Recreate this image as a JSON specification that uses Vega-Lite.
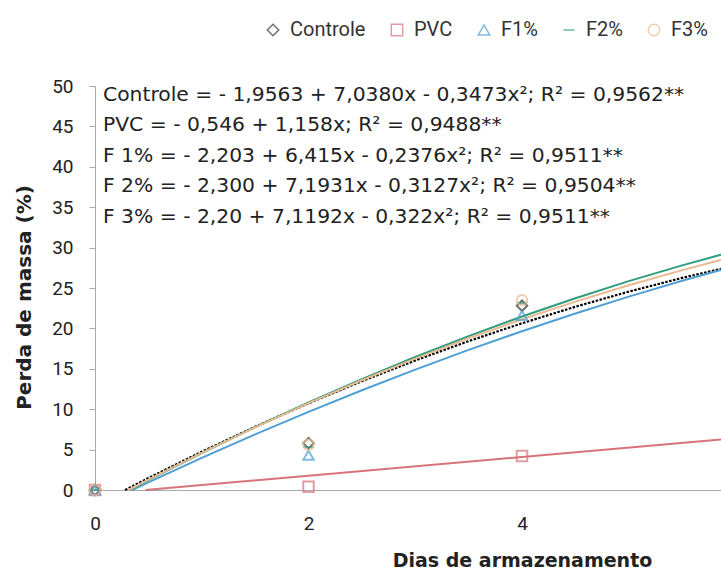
{
  "$schema": "https://vega.github.io/schema/vega-lite/v6.json",
  "width": 626,
  "height": 404,
  "autosize": {"type": "none"},
  "padding": {"left": 95, "top": 86, "right": 0, "bottom": 86},
  "background": "white",
  "config": {"view": {"stroke": null}, "font": "Roboto"},
  "datasets": {
    "points": [
      {"dia": 0, "perda": 0, "trat": "Controle"},
      {"dia": 2, "perda": 5.8, "trat": "Controle"},
      {"dia": 4, "perda": 22.8, "trat": "Controle"},
      {"dia": 0, "perda": 0, "trat": "PVC"},
      {"dia": 2, "perda": 0.4, "trat": "PVC"},
      {"dia": 4, "perda": 4.2, "trat": "PVC"},
      {"dia": 0, "perda": 0, "trat": "F1%"},
      {"dia": 2, "perda": 4.3, "trat": "F1%"},
      {"dia": 4, "perda": 21.6, "trat": "F1%"},
      {"dia": 0, "perda": 0, "trat": "F2%"},
      {"dia": 2, "perda": 5.3, "trat": "F2%"},
      {"dia": 4, "perda": 23.1, "trat": "F2%"},
      {"dia": 0, "perda": 0, "trat": "F3%"},
      {"dia": 2, "perda": 5.6, "trat": "F3%"},
      {"dia": 4, "perda": 23.5, "trat": "F3%"}
    ],
    "curves": [
      {"dia": 0.282, "perda": 0, "trat": "Controle"},
      {"dia": 0.5, "perda": 1.476, "trat": "Controle"},
      {"dia": 1, "perda": 4.734, "trat": "Controle"},
      {"dia": 1.5, "perda": 7.819, "trat": "Controle"},
      {"dia": 2, "perda": 10.731, "trat": "Controle"},
      {"dia": 2.5, "perda": 13.468, "trat": "Controle"},
      {"dia": 3, "perda": 16.032, "trat": "Controle"},
      {"dia": 3.5, "perda": 18.423, "trat": "Controle"},
      {"dia": 4, "perda": 20.639, "trat": "Controle"},
      {"dia": 4.5, "perda": 22.682, "trat": "Controle"},
      {"dia": 5, "perda": 24.551, "trat": "Controle"},
      {"dia": 5.5, "perda": 26.247, "trat": "Controle"},
      {"dia": 5.864, "perda": 27.372, "trat": "Controle"},
      {"dia": 0.4715, "perda": 0, "trat": "PVC"},
      {"dia": 2, "perda": 1.77, "trat": "PVC"},
      {"dia": 4, "perda": 4.086, "trat": "PVC"},
      {"dia": 5.864, "perda": 6.245, "trat": "PVC"},
      {"dia": 0.348, "perda": 0, "trat": "F1%"},
      {"dia": 0.5, "perda": 0.945, "trat": "F1%"},
      {"dia": 1, "perda": 3.974, "trat": "F1%"},
      {"dia": 1.5, "perda": 6.885, "trat": "F1%"},
      {"dia": 2, "perda": 9.677, "trat": "F1%"},
      {"dia": 2.5, "perda": 12.35, "trat": "F1%"},
      {"dia": 3, "perda": 14.904, "trat": "F1%"},
      {"dia": 3.5, "perda": 17.339, "trat": "F1%"},
      {"dia": 4, "perda": 19.655, "trat": "F1%"},
      {"dia": 4.5, "perda": 21.853, "trat": "F1%"},
      {"dia": 5, "perda": 23.932, "trat": "F1%"},
      {"dia": 5.5, "perda": 25.892, "trat": "F1%"},
      {"dia": 5.864, "perda": 27.244, "trat": "F1%"},
      {"dia": 0.324, "perda": 0, "trat": "F2%"},
      {"dia": 0.5, "perda": 1.218, "trat": "F2%"},
      {"dia": 1, "perda": 4.58, "trat": "F2%"},
      {"dia": 1.5, "perda": 7.786, "trat": "F2%"},
      {"dia": 2, "perda": 10.835, "trat": "F2%"},
      {"dia": 2.5, "perda": 13.728, "trat": "F2%"},
      {"dia": 3, "perda": 16.465, "trat": "F2%"},
      {"dia": 3.5, "perda": 19.045, "trat": "F2%"},
      {"dia": 4, "perda": 21.469, "trat": "F2%"},
      {"dia": 4.5, "perda": 23.737, "trat": "F2%"},
      {"dia": 5, "perda": 25.848, "trat": "F2%"},
      {"dia": 5.5, "perda": 27.803, "trat": "F2%"},
      {"dia": 5.864, "perda": 29.128, "trat": "F2%"},
      {"dia": 0.313, "perda": 0, "trat": "F3%"},
      {"dia": 0.5, "perda": 1.279, "trat": "F3%"},
      {"dia": 1, "perda": 4.597, "trat": "F3%"},
      {"dia": 1.5, "perda": 7.754, "trat": "F3%"},
      {"dia": 2, "perda": 10.75, "trat": "F3%"},
      {"dia": 2.5, "perda": 13.586, "trat": "F3%"},
      {"dia": 3, "perda": 16.26, "trat": "F3%"},
      {"dia": 3.5, "perda": 18.773, "trat": "F3%"},
      {"dia": 4, "perda": 21.125, "trat": "F3%"},
      {"dia": 4.5, "perda": 23.316, "trat": "F3%"},
      {"dia": 5, "perda": 25.346, "trat": "F3%"},
      {"dia": 5.5, "perda": 27.215, "trat": "F3%"},
      {"dia": 5.864, "perda": 28.474, "trat": "F3%"}
    ],
    "eqs": [
      {"lines": [
        "Controle = - 1,9563 + 7,0380x - 0,3473x²; R² = 0,9562**",
        "PVC = - 0,546 + 1,158x; R² = 0,9488**",
        "F 1% = - 2,203 + 6,415x - 0,2376x²; R² = 0,9511**",
        "F 2% = - 2,300 + 7,1931x - 0,3127x²; R² = 0,9504**",
        "F 3% = - 2,20 + 7,1192x - 0,322x²; R² = 0,9511**"
      ]}
    ]
  },
  "layer": [
    {
      "data": {"name": "curves"},
      "transform": [{"filter": "datum.trat == 'Controle'"}],
      "mark": {"type": "line", "strokeWidth": 2.2, "color": "#000000", "strokeDash": [2.5, 1.5]},
      "encoding": {
        "x": {"field": "dia", "type": "quantitative"},
        "y": {"field": "perda", "type": "quantitative"},
        "order": {"field": "dia", "type": "quantitative"}
      }
    },
    {
      "data": {"name": "curves"},
      "transform": [{"filter": "datum.trat != 'Controle'"}],
      "mark": {"type": "line", "strokeWidth": 2},
      "encoding": {
        "x": {"field": "dia", "type": "quantitative"},
        "y": {"field": "perda", "type": "quantitative"},
        "color": {"field": "trat", "type": "nominal"},
        "order": {"field": "dia", "type": "quantitative"}
      }
    },
    {
      "data": {"name": "points"},
      "mark": {"type": "point", "filled": false, "size": 110, "strokeWidth": 2},
      "encoding": {
        "x": {
          "field": "dia", "type": "quantitative",
          "scale": {"domain": [0, 5.864], "nice": false, "zero": false},
          "axis": {
            "title": "Dias de armazenamento", "values": [0, 2, 4], "format": "d", "grid": false, "ticks": false,
            "labelFlush": false, "labelFontSize": 19, "labelColor": "#222", "labelPadding": 24,
            "domainColor": "#aaa", "titleFont": "DejaVu Sans", "titleFontSize": 19, "titleFontWeight": "bold", "titleColor": "#222",
            "titlePadding": 18, "titleX": 427
          }
        },
        "y": {
          "field": "perda", "type": "quantitative",
          "scale": {"domain": [0, 50], "nice": false},
          "axis": {
            "title": "Perda de massa  (%)", "values": [0, 5, 10, 15, 20, 25, 30, 35, 40, 45, 50], "grid": false,
            "tickSize": 6, "tickColor": "#aaa", "domainColor": "#aaa",
            "labelFontSize": 19, "labelColor": "#222", "labelPadding": 16,
            "titleFont": "DejaVu Sans", "titleFontSize": 20, "titleFontWeight": "bold", "titleColor": "#222", "titlePadding": 17, "titleY": 211
          }
        },
        "color": {
          "field": "trat", "type": "nominal",
          "scale": {"domain": ["Controle", "PVC", "F1%", "F2%", "F3%"], "range": ["#333333", "#d9737b", "#4f9fd4", "#2f9e7e", "#e9b98f"]},
          "legend": {
            "title": null, "orient": "none", "direction": "horizontal", "legendX": 168, "legendY": -66,
            "labelFontSize": 20, "labelColor": "#333", "labelOffset": 7, "columnPadding": 21, "symbolSize": 130, "symbolStrokeWidth": 1.5
          }
        },
        "shape": {
          "field": "trat", "type": "nominal",
          "scale": {"domain": ["Controle", "PVC", "F1%", "F2%", "F3%"], "range": ["diamond", "square", "triangle-up", "stroke", "circle"]}
        }
      }
    },
    {
      "data": {"name": "eqs"},
      "mark": {"type": "text", "align": "left", "baseline": "top", "font": "DejaVu Sans", "fontSize": 20.3, "lineHeight": 30.5, "color": "#222"},
      "encoding": {
        "x": {"datum": 0.075, "type": "quantitative"},
        "y": {"datum": 50.15, "type": "quantitative"},
        "text": {"field": "lines"}
      }
    }
  ]
}
